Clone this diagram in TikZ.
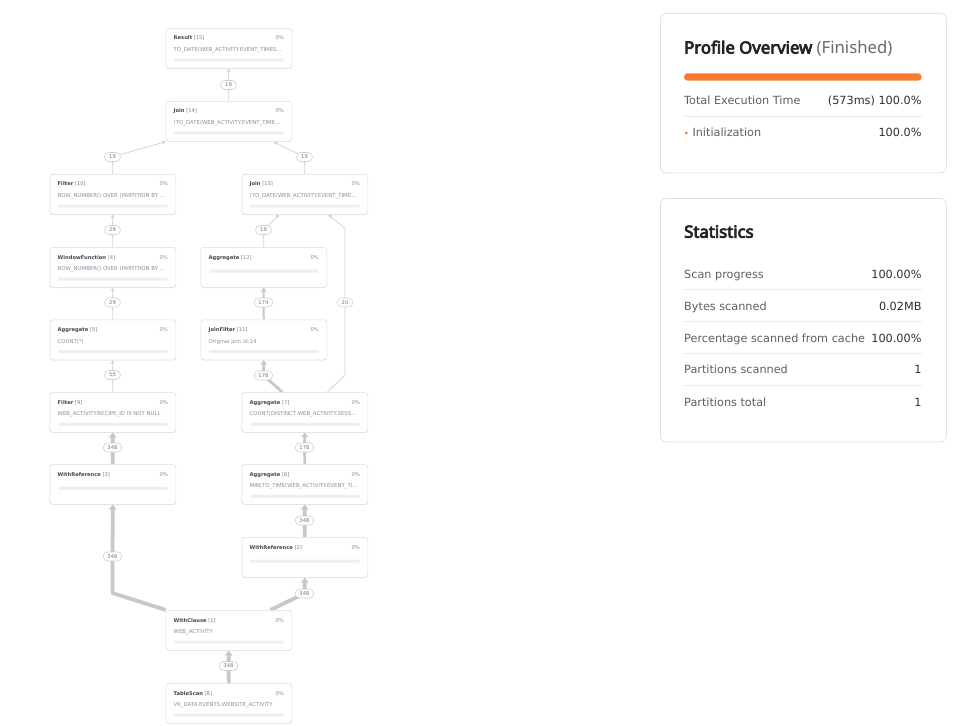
\documentclass[tikz,border=0pt]{standalone}
\usepackage{fontspec}
\setmainfont{Noto Sans}[BoldFont={Noto Sans}, BoldFeatures={FakeBold=4.5}]
\newfontfamily\dvs{DejaVu Sans}
\usetikzlibrary{arrows.meta,shadows}
\pgfdeclarelayer{background}
\pgfsetlayers{background,main}
\definecolor{boxc}{HTML}{DDDDDD}
\definecolor{titlec}{HTML}{45454F}
\definecolor{idc}{HTML}{7381A0}
\definecolor{pctc}{HTML}{8390AA}
\definecolor{descc}{HTML}{8E8E9B}
\definecolor{barc}{HTML}{EFEFF1}
\definecolor{edgec}{HTML}{D4D4D4}
\definecolor{thickc}{HTML}{C8C8C8}
\definecolor{cntb}{HTML}{CFCFCF}
\definecolor{cntt}{HTML}{7A7A7A}
\definecolor{cardb}{HTML}{E1E1E1}
\definecolor{orangec}{HTML}{FA7A30}
\definecolor{headc}{HTML}{232328}
\definecolor{labc}{HTML}{5E5E68}
\definecolor{valc}{HTML}{2E2E33}
\definecolor{sepc}{HTML}{EBEBEB}
\definecolor{finc}{HTML}{6A6A72}
\tikzset{
  opbox/.style={draw=boxc, fill=white, rounded corners=3bp, line width=0.6bp,
    minimum width=126bp, minimum height=40bp, anchor=north west, inner sep=0pt,
    drop shadow={shadow xshift=0bp, shadow yshift=-0.8bp, opacity=0.07, fill=black}},
  optitle/.style={anchor=base west, inner sep=0pt, text=titlec, font=\fontsize{5.2}{6}\dvs},
  oppct/.style={anchor=base east, inner sep=0pt, text=pctc, font=\fontsize{5.3}{6}\dvs},
  opdesc/.style={anchor=base west, inner sep=0pt, text=descc, font=\fontsize{5.4}{6}\dvs},
  opbar/.style={fill=barc, rounded corners=1.5bp},
  cnt/.style={draw=cntb, fill=white, line width=0.6bp, rounded corners=4.5bp, inner xsep=4.3bp,
    inner ysep=0pt, minimum height=9bp, minimum width=16bp, text=cntt, font=\fontsize{5.3}{6}\dvs},
  ethin/.style={draw=edgec, line width=0.8bp, -{Triangle[length=3.5bp,width=3.6bp]}},
  emid/.style={draw=thickc, line width=2bp, line join=round, -{Triangle[length=4bp,width=5.5bp]}},
  ebig/.style={draw=thickc, line width=2.8bp, line join=round, -{Triangle[length=4.5bp,width=6.5bp]}},
  ehuge/.style={draw=thickc, line width=3.8bp, line join=round, -{Triangle[length=5bp,width=7.5bp]}},
  card/.style={draw=cardb, fill=white, line width=0.8bp, rounded corners=6bp, anchor=north west, inner sep=0pt},
  heading/.style={anchor=base west, inner sep=0pt, text=headc, font=\fontsize{16.8}{19}\selectfont},
  lab/.style={anchor=base west, inner sep=0pt, text=labc, font=\fontsize{11.3}{14}\dvs},
  val/.style={anchor=base east, inner sep=0pt, text=valc, font=\fontsize{11.3}{14}\dvs},
  sep/.style={draw=sepc, line width=0.8bp},
}
\newcommand\opnode[6]{%
  \node[opbox] (#1) at (#2,#3) {};
  \node[optitle] (#1-t) at ([shift={(8,12)}]#1.north west) {\textbf{#4} {\color{idc}[#5]}};
  \node[oppct] (#1-p) at ([shift={(-8,12)}]#1.north east) {0\%};
  \node[opdesc] (#1-d) at ([shift={(8,23.8)}]#1.north west) {#6};
  \path[opbar] ([shift={(8,30.5)}]#1.north west) rectangle ([shift={(-8,33.5)}]#1.north east);
}
\newcommand\opnodeb[5]{%
  \node[opbox] (#1) at (#2,#3) {};
  \node[optitle] (#1-t) at ([shift={(8,12.5)}]#1.north west) {\textbf{#4} {\color{idc}[#5]}};
  \node[oppct] (#1-p) at ([shift={(-8,12.5)}]#1.north east) {0\%};
  \path[opbar] ([shift={(8,22.5)}]#1.north west) rectangle ([shift={(-8,25.5)}]#1.north east);
}
\begin{document}
\begin{tikzpicture}[x=1bp,y=-1bp]
\useasboundingbox (0,0) rectangle (963,726);

% ---------- plan nodes ----------
\opnode{res}{165.5}{28}{Result}{15}{TO\_DATE(WEB\_ACTIVITY.EVENT\_TIMES...}
\opnode{j14}{165.5}{101}{Join}{14}{(TO\_DATE(WEB\_ACTIVITY.EVENT\_TIME...}
\opnode{f10}{49.5}{174}{Filter}{10}{ROW\_NUMBER() OVER (PARTITION BY ...}
\opnode{j13}{241.5}{174}{Join}{13}{(TO\_DATE(WEB\_ACTIVITY.EVENT\_TIME...}
\opnode{wf4}{49.5}{247}{WindowFunction}{4}{ROW\_NUMBER() OVER (PARTITION BY ...}
\opnodeb{a12}{200.5}{247}{Aggregate}{12}
\opnode{a5}{49.5}{319.5}{Aggregate}{5}{COUNT(*)}
\opnode{jf11}{200.5}{319.5}{JoinFilter}{11}{Original join id:14}
\opnode{f9}{49.5}{392}{Filter}{9}{WEB\_ACTIVITY.RECIPE\_ID IS NOT NULL}
\opnode{a7}{241.5}{392}{Aggregate}{7}{COUNT(DISTINCT WEB\_ACTIVITY.SESS...}
\opnodeb{wr3}{49.5}{464}{WithReference}{3}
\opnode{a6}{241.5}{464}{Aggregate}{6}{MIN(TO\_TIME(WEB\_ACTIVITY.EVENT\_TI...}
\opnodeb{wr2}{241.5}{537}{WithReference}{2}
\opnode{wc1}{165.5}{610}{WithClause}{1}{WEB\_ACTIVITY}
\opnode{ts8}{165.5}{683}{TableScan}{8}{VK\_DATA.EVENTS.WEBSITE\_ACTIVITY}

% ---------- row-count bubbles ----------
\node[cnt] (c1) at (228.5,85) {19};
\node[cnt] (c2) at (112.5,157) {19};
\node[cnt] (c3) at (304.5,157) {19};
\node[cnt] (c4) at (112.5,230) {29};
\node[cnt] (c5) at (263.5,230) {19};
\node[cnt] (c6) at (112.5,302.5) {29};
\node[cnt] (c7) at (263.5,302.5) {174};
\node[cnt] (c8) at (345,302.5) {20};
\node[cnt] (c9) at (112.5,375) {55};
\node[cnt] (c10) at (263.5,375.5) {178};
\node[cnt] (c11) at (112.5,447.5) {348};
\node[cnt] (c12) at (304.5,447.5) {178};
\node[cnt] (c13) at (304.5,520.5) {348};
\node[cnt] (c14) at (112.5,556.5) {348};
\node[cnt] (c15) at (304.5,593.5) {348};
\node[cnt] (c16) at (228.5,666) {348};

\coordinate (k1) at (345,375);
\coordinate (k2) at (345,228.5);
\coordinate (k3) at (112.5,593);

% ---------- connectors ----------
\begin{pgfonlayer}{background}
\draw[ethin] (j14.north) -- (c1.center) -- (res.south);
\draw[ethin] (f10.north) -- (c2.center) -- ([xshift=-63bp]j14.south);
\draw[ethin] (j13.north) -- (c3.center) -- ([xshift=44.5bp]j14.south);
\draw[ethin] (wf4.north) -- (c4.center) -- (f10.south);
\draw[ethin] (a12.north) -- (c5.center) -- ([xshift=-25.5bp]j13.south);
\draw[ethin] ([xshift=22.5bp]a7.north) -- (k1) -- (c8.center) -- (k2) -- ([xshift=23.5bp]j13.south);
\draw[ethin] (a5.north) -- (c6.center) -- (wf4.south);
\draw[emid] (jf11.north) -- (c7.center) -- (a12.south);
\draw[ethin] (f9.north) -- (c9.center) -- (a5.south);
\draw[ebig] ([xshift=-22.5bp]a7.north) -- (c10.center) -- (jf11.south);
\draw[ehuge] (wr3.north) -- (c11.center) -- (f9.south);
\draw[ebig] (a6.north) -- (c12.center) -- (a7.south);
\draw[ehuge] (wr2.north) -- (c13.center) -- (a6.south);
\draw[ehuge] ([xshift=-63bp]wc1.north) -- (k3) -- (c14.center) -- (wr3.south);
\draw[ehuge] ([xshift=41.5bp]wc1.north) -- (c15.center) -- (wr2.south);
\draw[ehuge] (ts8.north) -- (c16.center) -- (wc1.south);
\end{pgfonlayer}

% ---------- Profile Overview card ----------
\node[card, minimum width=286bp, minimum height=159.5bp] (ov) at (660,13) {};
\node[heading] (ovh) at (684,53.5) {\textbf{Profile Overview} {\color{finc}(Finished)}};
\fill[orangec, rounded corners=3.6bp] (684,73.3) rectangle (921.7,80.7);
\node[lab] (ovl1) at (684,105) {Total Execution Time};
\node[val] (ovv1) at (921.7,105) {(573ms) 100.0\%};
\draw[sep] (684,116.7) -- (921.7,116.7);
\fill[orangec] (686.4,133) circle (1.5bp);
\node[lab] (ovl2) at (692.3,137) {Initialization};
\node[val] (ovv2) at (921.7,137) {100.0\%};

% ---------- Statistics card ----------
\node[card, minimum width=286bp, minimum height=243.5bp] (st) at (660,198) {};
\node[heading] (sth) at (684,237.7) {\textbf{Statistics}};
\node[lab] (sl1) at (684,278.3) {Scan progress};
\node[val] (sv1) at (921.7,278.3) {100.00\%};
\draw[sep] (684,289.5) -- (921.7,289.5);
\node[lab] (sl2) at (684,310) {Bytes scanned};
\node[val] (sv2) at (921.7,310) {0.02MB};
\draw[sep] (684,321.3) -- (921.7,321.3);
\node[lab] (sl3) at (684,342) {Percentage scanned from cache};
\node[val] (sv3) at (921.7,342) {100.00\%};
\draw[sep] (684,353.3) -- (921.7,353.3);
\node[lab] (sl4) at (684,373.7) {Partitions scanned};
\node[val] (sv4) at (921.7,373.7) {1};
\draw[sep] (684,385.3) -- (921.7,385.3);
\node[lab] (sl5) at (684,406) {Partitions total};
\node[val] (sv5) at (921.7,406) {1};
\end{tikzpicture}
\end{document}
